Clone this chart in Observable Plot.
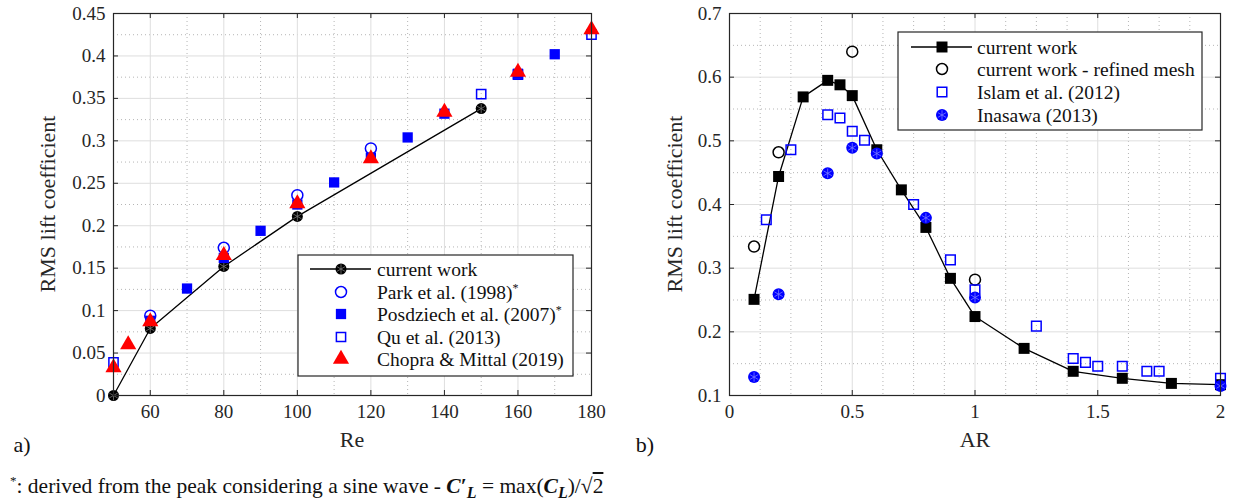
<!DOCTYPE html>
<html><head><meta charset="utf-8">
<script src="https://cdn.jsdelivr.net/npm/d3@7"></script>
<script src="https://cdn.jsdelivr.net/npm/@observablehq/plot@0.6"></script>
<style>
html,body{margin:0;padding:0;background:#fff;}
#wrap{position:relative;width:1233px;height:504px;overflow:hidden;font-family:"Liberation Serif","Times New Roman","DejaVu Serif",serif;color:#262626;}
.abs{position:absolute;white-space:nowrap;line-height:1;}
.c{transform:translate(-50%,-50%);}
.plot{position:absolute;top:0;}
</style></head><body><div id="wrap"></div>
<script>
// ---------- Panel a) : RMS lift vs Re ----------
const reCurrent = [50, 60, 80, 100, 150];
const clCurrent = [0, 0.079, 0.152, 0.211, 0.338];
const rePark = [60, 80, 100, 120];
const clPark = [0.094, 0.174, 0.236, 0.291];
const rePosd = [60, 70, 80, 90, 100, 110, 120, 130, 140, 160, 170];
const clPosd = [0.088, 0.126, 0.162, 0.194, 0.225, 0.251, 0.280, 0.304, 0.332, 0.379, 0.402];
const reQu = [50, 150, 160, 180];
const clQu = [0.039, 0.355, 0.378, 0.425];
const reChopra = [50, 54, 60, 80, 100, 120, 140, 160, 180];
const clChopra = [0.033, 0.060, 0.087, 0.165, 0.226, 0.279, 0.334, 0.381, 0.431];
const reTicks = [60, 80, 100, 120, 140, 160, 180];
const reMinor = [70, 90, 110, 130, 150, 170];
const clTicksA = [0, 0.05, 0.1, 0.15, 0.2, 0.25, 0.3, 0.35, 0.4, 0.45];
const clMinorA = [0.025, 0.075, 0.125, 0.175, 0.225, 0.275, 0.325, 0.375, 0.425];

// ---------- Panel b) : RMS lift vs AR ----------
const arCurrent = [0.1, 0.2, 0.3, 0.4, 0.45, 0.5, 0.6, 0.7, 0.8, 0.9, 1.0, 1.2, 1.4, 1.6, 1.8, 2.0];
const clCurrentB = [0.251, 0.444, 0.569, 0.595, 0.588, 0.571, 0.486, 0.423, 0.364, 0.284, 0.224, 0.174, 0.138, 0.127, 0.119, 0.117];
const arRefined = [0.1, 0.2, 0.5, 1.0];
const clRefined = [0.334, 0.482, 0.640, 0.282];
const arIslam = [0.15, 0.25, 0.4, 0.45, 0.5, 0.55, 0.75, 0.9, 1.0, 1.25, 1.4, 1.45, 1.5, 1.6, 1.7, 1.75, 2.0];
const clIslam = [0.376, 0.486, 0.541, 0.536, 0.515, 0.501, 0.400, 0.313, 0.266, 0.209, 0.158, 0.152, 0.146, 0.146, 0.138, 0.138, 0.127];
const arInasawa = [0.1, 0.2, 0.4, 0.5, 0.6, 0.8, 1.0, 2.0];
const clInasawa = [0.129, 0.259, 0.449, 0.489, 0.480, 0.379, 0.254, 0.115];
const arTicks = [0, 0.5, 1, 1.5, 2];
const arMinor = [0.125, 0.25, 0.375, 0.625, 0.75, 0.875, 1.125, 1.25, 1.375, 1.625, 1.75, 1.875];
const clTicksB = [0.1, 0.2, 0.3, 0.4, 0.5, 0.6, 0.7];
const clMinorB = [0.15, 0.25, 0.35, 0.45, 0.55, 0.65];

const legendA = ["current work", "Park et al. (1998)", "Posdziech et al. (2007)", "Qu et al. (2013)", "Chopra & Mittal (2019)"];
const legendB = ["current work", "current work - refined mesh", "Islam et al. (2012)", "Inasawa (2013)"];

const rows = (xs, ys) => xs.map((x, i) => ({x, y: ys[i]}));
const AX = "#262626";
const FONT = "'Liberation Serif', 'Times New Roman', 'DejaVu Serif', serif";

function panel({width, height, ml, mr, mt, mb, xDomain, yDomain, xTicks, xMinor, yTicks, yMinor, data}) {
  const W = width - ml - mr, H = height - mt - mb, t = 5;
  return Plot.plot({
    width, height, marginLeft: ml, marginRight: mr, marginTop: mt, marginBottom: mb,
    x: {type: "linear", domain: xDomain},
    y: {type: "linear", domain: yDomain},
    style: {fontFamily: FONT, fontSize: "19px", color: AX, background: "transparent", overflow: "visible"},
    marks: [
      Plot.ruleX(xMinor, {stroke: "#b5b5b5", strokeDasharray: "1,3"}),
      Plot.ruleY(yMinor, {stroke: "#b5b5b5", strokeDasharray: "1,3"}),
      Plot.ruleX(xTicks, {stroke: "#dedede", strokeWidth: 1}),
      Plot.ruleY(yTicks, {stroke: "#dedede", strokeWidth: 1}),
      ...data,
      Plot.frame({stroke: AX, strokeWidth: 1.2}),
      Plot.ruleX(xTicks, {stroke: AX, insetTop: H - t}),
      Plot.ruleX(xTicks, {stroke: AX, insetBottom: H - t}),
      Plot.ruleY(yTicks, {stroke: AX, insetRight: W - t}),
      Plot.ruleY(yTicks, {stroke: AX, insetLeft: W - t}),
      Plot.axisX({ticks: xTicks, tickSize: 0, tickPadding: 9, tickFormat: d => String(d), label: null, fill: AX, fontFamily: FONT}),
      Plot.axisY({ticks: yTicks, tickSize: 0, tickPadding: 8, tickFormat: d => String(d), label: null, fill: AX, fontFamily: FONT})
    ]
  });
}

const cur = rows(reCurrent, clCurrent);
const plotA = panel({
  width: 616, height: 430, ml: 113, mr: 25, mt: 13, mb: 35,
  xDomain: [50, 180], yDomain: [0, 0.45],
  xTicks: reTicks, xMinor: reMinor, yTicks: clTicksA, yMinor: clMinorA,
  data: [
    Plot.line(cur, {x: "x", y: "y", stroke: "black", strokeWidth: 1.3}),
    Plot.dot(cur, {x: "x", y: "y", r: 5.5, fill: "black"}),
    Plot.dot(cur, {x: "x", y: "y", r: 4.5, symbol: "asterisk", stroke: "#777", strokeWidth: 0.8}),
    Plot.dot(rows(rePark, clPark), {x: "x", y: "y", r: 5.5, symbol: "circle", stroke: "blue", fill: "none", strokeWidth: 1.5}),
    Plot.dot(rows(rePosd, clPosd), {x: "x", y: "y", r: 5.8, symbol: "square", fill: "blue"}),
    Plot.dot(rows(reQu, clQu), {x: "x", y: "y", r: 5.2, symbol: "square", stroke: "blue", fill: "none", strokeWidth: 1.5}),
    Plot.dot(rows(reChopra, clChopra), {x: "x", y: "y", r: 6, symbol: "triangle", fill: "red"})
  ]
});

const curB = rows(arCurrent, clCurrentB);
const inas = rows(arInasawa, clInasawa);
const plotB = panel({
  width: 617, height: 430, ml: 113, mr: 13, mt: 13, mb: 35,
  xDomain: [0, 2], yDomain: [0.1, 0.7],
  xTicks: arTicks, xMinor: arMinor, yTicks: clTicksB, yMinor: clMinorB,
  data: [
    Plot.line(curB, {x: "x", y: "y", stroke: "black", strokeWidth: 1.3}),
    Plot.dot(curB, {x: "x", y: "y", r: 6.2, symbol: "square", fill: "black"}),
    Plot.dot(rows(arRefined, clRefined), {x: "x", y: "y", r: 5.5, symbol: "circle", stroke: "black", fill: "none", strokeWidth: 1.5}),
    Plot.dot(rows(arIslam, clIslam), {x: "x", y: "y", r: 5.4, symbol: "square", stroke: "blue", fill: "none", strokeWidth: 1.5}),
    Plot.dot(inas, {x: "x", y: "y", r: 6, fill: "blue"}),
    Plot.dot(inas, {x: "x", y: "y", r: 4.5, symbol: "asterisk", stroke: "#7a7aff", strokeWidth: 0.8})
  ]
});

const wrap = document.getElementById("wrap");
plotA.classList.add("plot"); plotA.style.left = "0px";
plotB.classList.add("plot"); plotB.style.left = "616px";
wrap.appendChild(plotA); wrap.appendChild(plotB);

// ---------- legends (overlay) ----------
const ov = d3.select(wrap).append("svg").attr("width", 1233).attr("height", 504)
  .style("position", "absolute").style("left", 0).style("top", 0)
  .attr("font-family", FONT).attr("font-size", 19.5);
const sym = (type, r) => d3.symbol(type, Math.PI * r * r)();

function drawLegend(box, rowsY, mx, lx0, lx1, tx, labels, draws, stars) {
  ov.append("rect").attr("x", box[0]).attr("y", box[1]).attr("width", box[2] - box[0]).attr("height", box[3] - box[1])
    .attr("fill", "white").attr("stroke", AX).attr("stroke-width", 1.2);
  labels.forEach((lab, i) => {
    const y = rowsY[i];
    const g = ov.append("g").attr("transform", `translate(${mx},${y})`);
    draws[i](g, lx0 - mx, lx1 - mx);
    const t = ov.append("text").attr("x", tx).attr("y", y).attr("dy", "0.35em").attr("fill", "#111").text(lab);
    if (stars[i]) t.append("tspan").attr("dy", "-0.55em").attr("font-size", "12px").text("*");
  });
}

drawLegend([298, 255, 573, 376], [269, 292, 314, 337, 359], 341, 310, 371, 377, legendA, [
  (g, a, b) => { g.append("line").attr("x1", a).attr("x2", b).attr("stroke", "black").attr("stroke-width", 1.3);
                 g.append("path").attr("d", sym(d3.symbolCircle, 5.5)).attr("fill", "black");
                 g.append("path").attr("d", sym(d3.symbolAsterisk, 4.5)).attr("fill", "none").attr("stroke", "#777").attr("stroke-width", 0.8); },
  g => g.append("path").attr("d", sym(d3.symbolCircle, 5.5)).attr("fill", "none").attr("stroke", "blue").attr("stroke-width", 1.5),
  g => g.append("path").attr("d", sym(d3.symbolSquare, 5.8)).attr("fill", "blue"),
  g => g.append("path").attr("d", sym(d3.symbolSquare, 5.2)).attr("fill", "none").attr("stroke", "blue").attr("stroke-width", 1.5),
  g => g.append("path").attr("d", sym(d3.symbolTriangle, 6)).attr("fill", "red")
], [false, true, true, false, false]);

drawLegend([898, 32, 1202, 130], [47, 69, 92, 115], 942, 911, 972, 977, legendB, [
  (g, a, b) => { g.append("line").attr("x1", a).attr("x2", b).attr("stroke", "black").attr("stroke-width", 1.3);
                 g.append("path").attr("d", sym(d3.symbolSquare, 6.2)).attr("fill", "black"); },
  g => g.append("path").attr("d", sym(d3.symbolCircle, 5.5)).attr("fill", "none").attr("stroke", "black").attr("stroke-width", 1.5),
  g => g.append("path").attr("d", sym(d3.symbolSquare, 5.4)).attr("fill", "none").attr("stroke", "blue").attr("stroke-width", 1.5),
  g => { g.append("path").attr("d", sym(d3.symbolCircle, 6)).attr("fill", "blue");
         g.append("path").attr("d", sym(d3.symbolAsterisk, 4.5)).attr("fill", "none").attr("stroke", "#7a7aff").attr("stroke-width", 0.8); }
], [false, false, false, false]);

// ---------- text labels ----------
function label(html, x, y, opts = {}) {
  const d = document.createElement("div");
  d.className = "abs" + (opts.center === false ? "" : " c");
  d.style.left = x + "px"; d.style.top = y + "px";
  d.style.fontSize = (opts.size || 22) + "px";
  if (opts.rotate) d.style.transform = "translate(-50%,-50%) rotate(-90deg)";
  if (opts.color) d.style.color = opts.color;
  d.innerHTML = html;
  wrap.appendChild(d);
}
label("RMS lift coefficient", 48, 204, {rotate: true});
label("RMS lift coefficient", 675, 204, {rotate: true});
label("Re", 352, 440);
label("AR", 975, 440);
label("a)", 22, 445, {color: "#111"});
label("b)", 645, 445, {color: "#111"});
label('<sup style="font-size:13px">*</sup>: derived from the peak considering a sine wave - <b><i>C</i>′<sub style="font-size:16px"><i>L</i></sub></b> = max(<b><i>C</i><sub style="font-size:16px"><i>L</i></sub></b>)/√<span style="text-decoration:overline">2</span>', 10, 474, {center: false, size: 21.5, color: "#111"});
</script>
</body></html>
